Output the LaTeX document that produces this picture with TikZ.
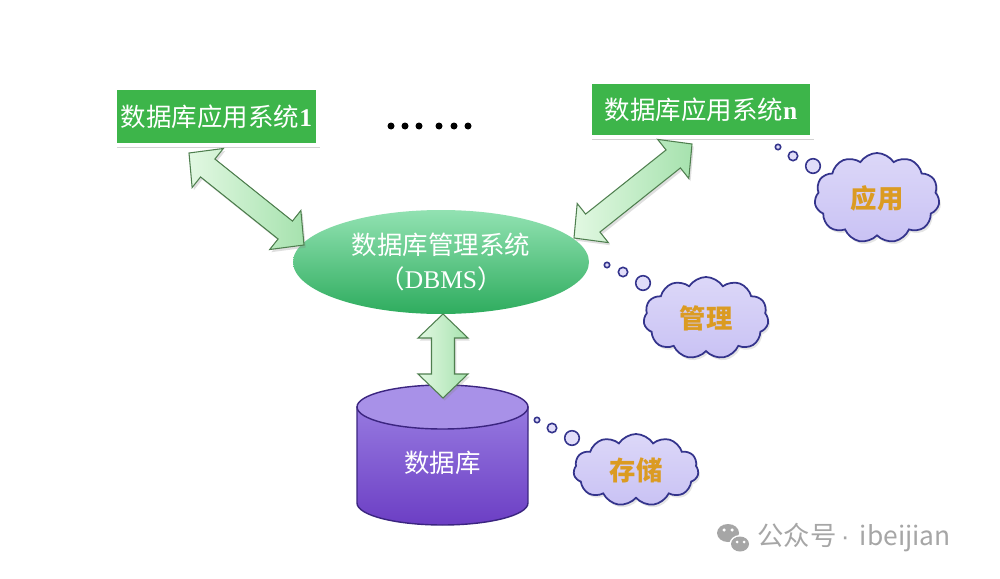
\documentclass[tikz,border=0pt]{standalone}
\usepackage{fontspec}
\setmainfont{Noto Sans CJK SC}
\newfontfamily\latinserif{Liberation Serif}
\newfontfamily\latinsans{Liberation Sans}
\usetikzlibrary{calc,shapes.geometric,shapes.symbols,shadows}
\definecolor{boxgreen}{HTML}{3DB54A}
\definecolor{arrline}{HTML}{4F7F4F}
\definecolor{arrlight}{HTML}{E2F8E2}
\definecolor{arrdark}{HTML}{A6E2AE}
\definecolor{dbmstop}{HTML}{92E2B2}
\definecolor{dbmsmid}{HTML}{40C070}
\definecolor{dbmsbot}{HTML}{2EAC5E}
\definecolor{cloudfill}{HTML}{C9C2F4}
\definecolor{cloudline}{HTML}{34348C}
\definecolor{gold}{HTML}{DB9B22}
\definecolor{dbtop}{HTML}{A891E8}
\definecolor{dbhigh}{HTML}{9679E0}
\definecolor{dblow}{HTML}{6C3EC4}
\definecolor{dbline}{HTML}{3B2580}
\definecolor{wmgray}{HTML}{A6A6A6}
\tikzset{
  appbox/.style={fill=boxgreen,draw=white,line width=2pt,text=white,inner sep=0pt,
    font=\fontsize{14.5}{17}\selectfont,
    drop shadow={opacity=.35,shadow xshift=1.2pt,shadow yshift=-1.8pt}},
  thought/.style={cloud,cloud puffs=11,cloud puff arc=115,cloud ignores aspect,
    draw=cloudline,line width=1pt,top color=cloudfill!65!white,bottom color=cloudfill,
    inner sep=0pt,font=\fontsize{15}{17}\selectfont\bfseries,text=gold,
    drop shadow={opacity=.2,shadow xshift=1pt,shadow yshift=-1.5pt}},
  bubble/.style={draw=cloudline,line width=.9pt,fill=cloudfill!55!white},
  blockarr/.style={draw=arrline,line width=.6pt,left color=arrlight,right color=arrdark,
    drop shadow={opacity=.25,shadow xshift=1pt,shadow yshift=-1.5pt}},
}
% double block arrow between two named points
\newcommand\blockarrow[2]{%
  \coordinate(#1h)at($(#1)!.48cm!(#2)$);
  \coordinate(#2h)at($(#2)!.48cm!(#1)$);
  \draw[blockarr](#1)--($(#1h)!.5cm!90:(#2)$)--($(#1h)!.23cm!90:(#2)$)
    --($(#2h)!.23cm!-90:(#1)$)--($(#2h)!.5cm!-90:(#1)$)--(#2)
    --($(#2h)!.5cm!90:(#1)$)--($(#2h)!.23cm!90:(#1)$)
    --($(#1h)!.23cm!-90:(#2)$)--($(#1h)!.5cm!-90:(#2)$)--cycle;}

\begin{document}
\begin{tikzpicture}[x=.02cm,y=-.02cm]
\useasboundingbox[fill=white](0,0)rectangle(1000,578);
% application boxes
\node[appbox,minimum width=4.06cm,minimum height=1.14cm](app1)at(216.5,116.5){数据库应用系统{\latinserif\bfseries 1}};
\node[appbox,minimum width=4.44cm,minimum height=1.1cm](appn)at(701,109.5){数据库应用系统{\latinserif\bfseries n}};
\foreach \x in {391,405,419,439,454,468}
  \fill(\x,126)circle[radius=.07cm];
% DBMS
\node[ellipse,minimum width=5.92cm,minimum height=2.08cm,inner sep=0pt,
  top color=dbmstop,middle color=dbmsmid,bottom color=dbmsbot,text=white,align=center,
  font=\fontsize{14.5}{19}\selectfont](dbms)at(441,262){数据库管理系统\\（{\latinserif DBMS}）};
% database cylinder
\draw[dbline,line width=.8pt,top color=dbhigh,bottom color=dblow]
  (357,407)--(357,503)arc[start angle=180,end angle=360,x radius=1.71cm,y radius=.44cm]
  --(528,407)--cycle;
\draw[dbline,line width=.8pt,fill=dbtop](442.5,407)ellipse[x radius=1.71cm,y radius=.44cm];
\node[text=white,font=\fontsize{14.5}{17}\selectfont](db)at(442.5,463){数据库};
% connectors
\coordinate(a1)at(189,153);\coordinate(b1)at(304,245);
\coordinate(a2)at(692,144);\coordinate(b2)at(574,238);
\coordinate(a3)at(443,314);\coordinate(b3)at(443,398);
\blockarrow{a1}{b1}
\blockarrow{a2}{b2}
\blockarrow{a3}{b3}
% thought clouds
\node[thought,minimum width=2.5cm,minimum height=1.8cm](use)at(877,198){应用};
\node[thought,minimum width=2.5cm,minimum height=1.64cm](mgr)at(706,318){管理};
\node[thought,minimum width=2.5cm,minimum height=1.44cm](sto)at(636,470){存储};
\draw[bubble](778,147)circle[radius=.054cm] (793,156)circle[radius=.094cm] (813,166)circle[radius=.146cm];
\draw[bubble](607,265)circle[radius=.054cm] (623,272)circle[radius=.094cm] (643,283)circle[radius=.146cm];
\draw[bubble](537,420)circle[radius=.054cm] (552,428)circle[radius=.094cm] (572,438)circle[radius=.146cm];
% watermark
\fill[wmgray](728,533)ellipse[x radius=.22cm,y radius=.18cm];
\fill[white](740,544)ellipse[x radius=.21cm,y radius=.18cm];
\fill[wmgray](740,544)ellipse[x radius=.18cm,y radius=.15cm];
\fill[white](724,530)circle[radius=.035cm] (732,530)circle[radius=.035cm]
  (737,542)circle[radius=.03cm] (744,542)circle[radius=.03cm];
\node[anchor=west,text=wmgray,font=\fontsize{15}{17}\selectfont,inner sep=0pt](wm)at(757,538){公众号\,{\latinsans·}\, ibeijian};
\end{tikzpicture}
\end{document}
